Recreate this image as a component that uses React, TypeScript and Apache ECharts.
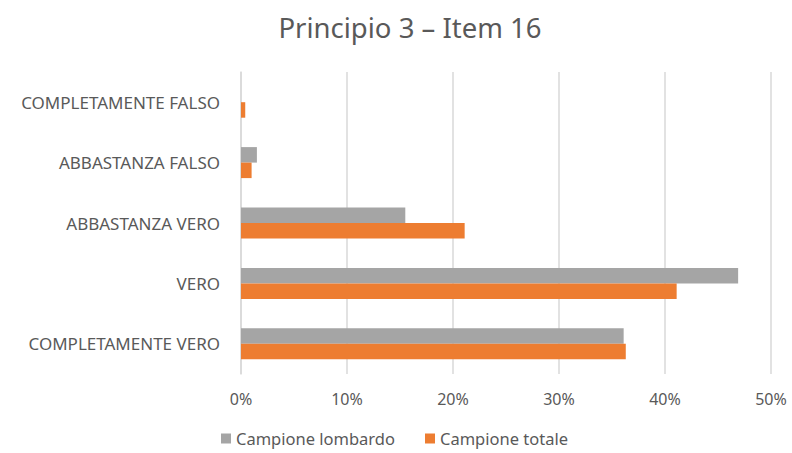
import React, { useEffect, useRef } from "react";
import * as echarts from "echarts";

const categories = [
  "COMPLETAMENTE VERO",
  "VERO",
  "ABBASTANZA VERO",
  "ABBASTANZA FALSO",
  "COMPLETAMENTE FALSO",
];
const lombardo = [36.1, 46.9, 15.5, 1.5, 0];
const totale = [36.3, 41.1, 21.1, 1.0, 0.4];
const seriesNames = ["Campione lombardo", "Campione totale"];
const title = "Principio 3 – Item 16";

const FONT = "'Noto Sans', 'Open Sans', sans-serif";

export default function App() {
  const ref = useRef<HTMLDivElement>(null);
  useEffect(() => {
    document.body.style.margin = "0";
    const chart = echarts.init(ref.current!, null, { renderer: "svg" });
    chart.setOption({
      animation: false,
      title: {
        text: title,
        left: 405,
        textAlign: "center",
        top: 8,
        textStyle: { fontFamily: FONT, fontSize: 27.5, fontWeight: "normal", color: "#595959" },
      },
      legend: {
        data: seriesNames,
        top: 430,
        left: 221,
        itemWidth: 10,
        itemHeight: 10,
        itemGap: 30,
        icon: "rect",
        padding: 0,
        textStyle: { fontFamily: FONT, fontSize: 16.5, color: "#595959" },
      },
      grid: { left: 241, right: 21, top: 72, bottom: 79, containLabel: false },
      xAxis: {
        type: "value",
        min: 0,
        max: 50,
        interval: 10,
        axisLabel: {
          formatter: "{value}%",
          fontFamily: FONT,
          fontSize: 16,
          color: "#595959",
          margin: 17,
        },
        axisLine: { show: false },
        axisTick: { show: false },
        splitLine: { lineStyle: { color: "#d9d9d9", width: 1.5 } },
      },
      yAxis: {
        type: "category",
        data: categories,
        axisLine: { show: true, lineStyle: { color: "#d9d9d9", width: 1.5 } },
        axisTick: { show: false },
        axisLabel: { fontFamily: FONT, fontSize: 17, color: "#595959", margin: 21 },
      },
      series: [
        {
          name: seriesNames[0],
          type: "bar",
          data: lombardo,
          itemStyle: { color: "#a5a5a5" },
          barWidth: 15.5,
          barGap: "0%",
        },
        {
          name: seriesNames[1],
          type: "bar",
          data: totale,
          itemStyle: { color: "#ed7d31" },
          barWidth: 15.5,
          barGap: "0%",
        },
      ],
    });
    return () => chart.dispose();
  }, []);
  return <div ref={ref} style={{ width: 792, height: 453 }} />;
}
